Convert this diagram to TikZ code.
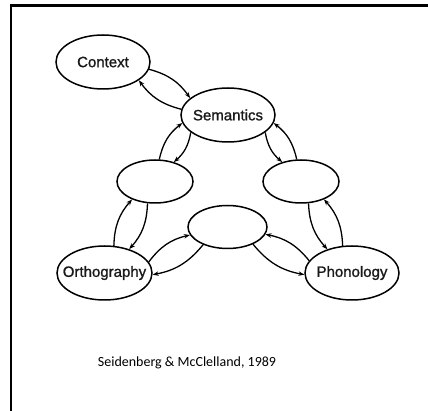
\documentclass[tikz,border=0pt]{standalone}
\usepackage{fontspec}
\setmainfont{Liberation Sans}
\newfontfamily\lblfont[FakeBold=1.2]{Liberation Sans}
\newfontfamily\citefont{Carlito}
\usetikzlibrary{shapes.geometric,arrows.meta}
\begin{document}
\begin{tikzpicture}[x=1pt,y=-1pt,
  oval/.style={ellipse, draw, line width=1.5pt, inner sep=0pt},
  big/.style={oval, minimum width=94pt, minimum height=54pt},
  small/.style={oval, minimum width=76pt, minimum height=43pt},
  lbl/.style={font=\lblfont\fontsize{15}{18}\selectfont, text=black!90},
  conn/.style={line width=1.3pt, -{Stealth[length=6pt,width=4.5pt]}},
]
\useasboundingbox (0,0) rectangle (428,411);
\coordinate (fa) at (11,411);
\coordinate (fb) at (428,5.5);
\draw[line width=2.5pt] (fa) |- (fb);

\node[big] (ctx) at (103,62) {};
\node[big] (sem) at (228,115) {};
\node[small] (lh) at (155,181.5) {};
\node[small] (rh) at (301,181.5) {};
\node[small, minimum width=79pt] (mid) at (227.5,227) {};
\node[big, minimum width=95pt] (orth) at (104.5,273) {};
\node[big] (phon) at (352,273) {};

\node[lbl] (ctxt) at (ctx.center) {Context};
\node[lbl] (semt) at (sem.center) {Semantics};
\node[lbl] (ortht) at (orth.center) {Orthography};
\node[lbl] (phont) at (phon.center) {Phonology};

\draw[conn] (ctx.-9) to[bend left=20] (sem.156);
\draw[conn] (sem.173) to[bend left=20] (ctx.-27);
\draw[conn] (lh.79) to[bend left=20] (sem.190);
\draw[conn] (sem.205) to[bend left=20] (lh.46);
\draw[conn] (sem.-25) to[bend right=20] (rh.134);
\draw[conn] (rh.101) to[bend right=20] (sem.-10);
\draw[conn] (orth.71) to[bend left=20] (lh.218);
\draw[conn] (lh.251) to[bend left=20] (orth.44);
\draw[conn] (rh.289) to[bend right=20] (phon.136);
\draw[conn] (phon.109) to[bend right=20] (rh.322);
\draw[conn] (orth.14) to[bend left=20] (mid.192);
\draw[conn] (mid.216) to[bend left=20] (orth.-2);
\draw[conn] (phon.164) to[bend right=20] (mid.349);
\draw[conn] (mid.326) to[bend right=20] (phon.182);

\node[font=\citefont\fontsize{14}{17}\selectfont] (cite) at (187,363) {Seidenberg \& McClelland, 1989};
\end{tikzpicture}
\end{document}
